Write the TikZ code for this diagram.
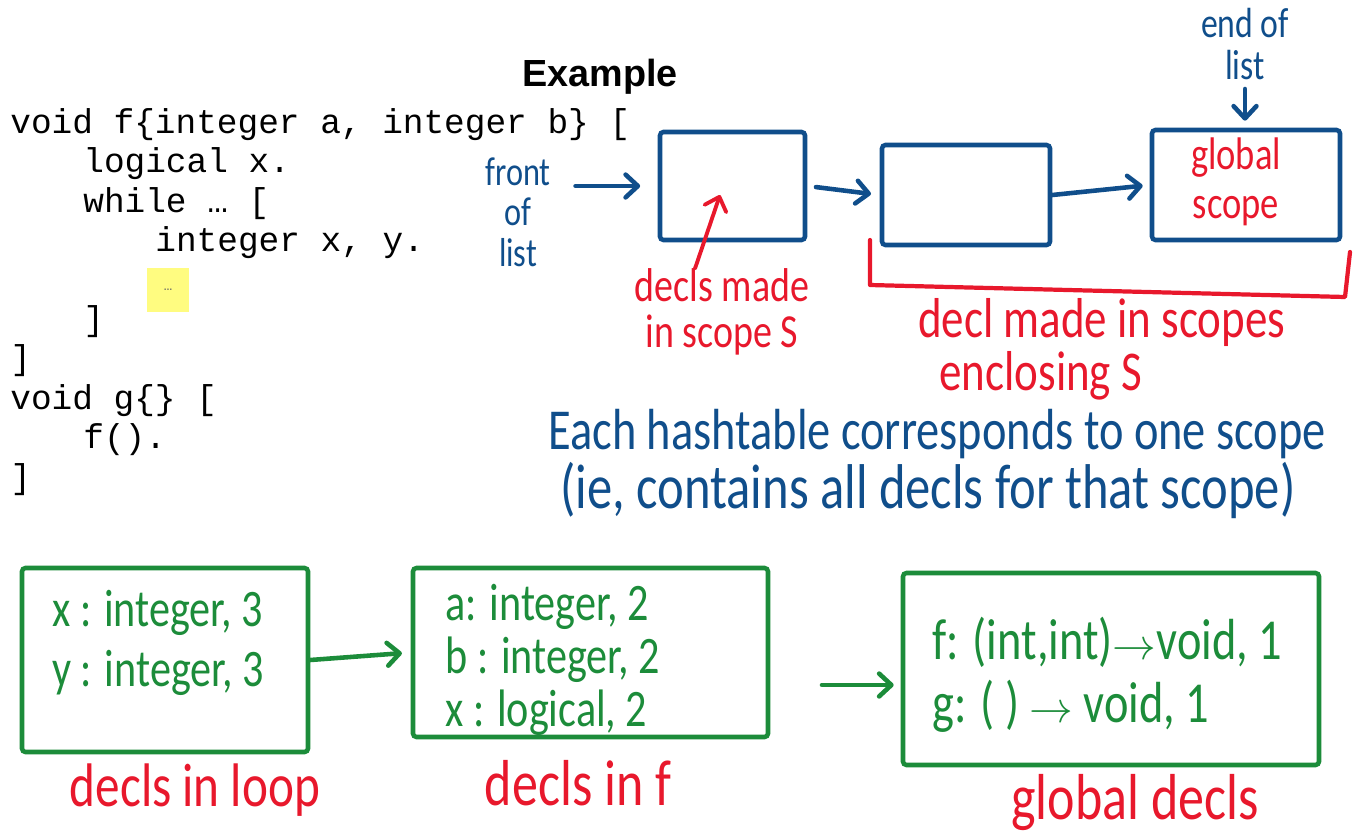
\documentclass[tikz,border=0pt]{standalone}
\usepackage{fontspec}
\setmainfont{Liberation Sans}
\setmonofont{Liberation Mono}
\newfontfamily\handfont[FakeStretch=0.8]{Carlito}
\usetikzlibrary{arrows.meta,positioning,calc,fit}
\definecolor{penblue}{RGB}{16,78,139}
\definecolor{penred}{RGB}{232,24,44}
\definecolor{pengreen}{RGB}{28,140,58}
\definecolor{marker}{RGB}{255,252,128}
\newcommand{\hand}[2]{\handfont\fontsize{#1}{#2}\selectfont}

\begin{document}
\begin{tikzpicture}[
    x=0.02cm, y=-0.02cm,
    code/.style={anchor=base west, inner sep=0pt, font=\ttfamily\fontsize{19.6}{22}\selectfont},
    scopebox/.style={draw=penblue, line width=2.6pt, inner sep=0pt, rounded corners=2pt},
    declbox/.style={draw=pengreen, line width=2.6pt, inner sep=0pt, rounded corners=2pt},
    decltext/.style={text=pengreen, align=left, anchor=west, inner sep=0pt},
    bluenote/.style={text=penblue, align=center, inner sep=0pt},
    rednote/.style={text=penred, align=center, inner sep=0pt},
    pen/.style={line width=2.6pt, line cap=round, -{Straight Barb[round, length=7pt, width=13pt]}}
]
    \useasboundingbox (0,0) rectangle (1362,835);

    % Title and code
    \node[font=\bfseries\fontsize{21.5}{24}\selectfont] (title) at (600,77) {Example};
    \node[code] (l1) at (10,133) {void f\{integer a, integer b\} [};
    \node[code] (l2) at (83,172) {logical x.};
    \node[code] (l3) at (83,212) {while … [};
    \node[code] (l4) at (155,251) {integer x, y.};
    \node[fill=marker, minimum width=0.86cm, minimum height=0.9cm, inner sep=0pt, text=black!60, font=\ttfamily\footnotesize] (dots) at (168,290) {…};
    \node[code] (l5) at (83,330) {]};
    \node[code] (l6) at (10,369) {]};
    \node[code] (l7) at (10,409) {void g\{\} [};
    \node[code] (l8) at (83,448) {f().};
    \node[code] (l9) at (10,488) {]};

    % List of scope tables
    \node[scopebox, fit={(660,132) (805,240)}] (front) {};
    \node[scopebox, fit={(882,145) (1050,245)}] (middle) {};
    \node[scopebox, fit={(1152,130) (1340,240)}] (global) {};
    \node[rednote, font=\hand{26}{28}] (globaltext) at (1236,182) {global\\scope};

    \node[bluenote, font=\hand{23}{23}] (frontlbl) at (518,212) {front\\of\\list};
    \node[bluenote, font=\hand{24}{24}] (endlbl) at (1245,44) {end of\\list};

    \draw[pen, penblue, shorten <=14pt, shorten >=10pt] (frontlbl.east |- front.west) -- (front.west);
    \draw[pen, penblue, shorten <=5pt, shorten >=5pt] (front.east) -- (middle.west);
    \draw[pen, penblue, shorten >=4pt] (middle.east) -- (global.west);
    \draw[pen, penblue, shorten <=5pt, shorten >=4pt] (endlbl.south) -- (endlbl.south |- global.north);

    % Red notes
    \node[rednote, font=\hand{27}{26}] (scopelbl) at (722,312) {decls made\\in scope S};
    \coordinate (target) at (720,195);
    \draw[pen, penred, line width=2.2pt] ($(scopelbl.north)+(-27,0)$) -- (target);

    \coordinate (brL) at (870,240);
    \coordinate (brR) at (1350,252);
    \draw[penred, line width=2.4pt, line cap=round, line join=round] (brL) -- ++(0,45) -- ($(brR)+(-5,45)$) -- (brR);
    \node[rednote, align=left, anchor=north west, font=\hand{32}{30}] (outerlbl) at (918,298) {decl made in scopes\\\hspace{12pt}enclosing S};

    % Blue statement
    \node[bluenote, anchor=west, font=\hand{33}{33}] (note1) at (548,434) {Each hashtable corresponds to one scope};
    \node[bluenote, anchor=west, font=\hand{36}{36}] (note2) at (560,490) {(ie, contains all decls for that scope)};

    % Hash tables of the example
    \node[declbox, fit={(22,568) (308,752)}] (loopdecls) {};
    \node[decltext, font=\hand{30}{34}] (looptext) at (52,643) {x : integer, 3\\y : integer, 3};
    \node[declbox, fit={(413,568) (768,737)}] (fdecls) {};
    \node[decltext, font=\hand{30}{30}] (ftext) at (445,660) {a: integer, 2\\b : integer, 2\\x : logical, 2};
    \node[declbox, fit={(903,573) (1319,765)}] (globaldecls) {};
    \node[decltext, font=\hand{33}{36}] (globaltable) at (932,675) {f: (int,int)$\rightarrow$void, 1\\g: ( ) $\rightarrow$ void, 1};

    \draw[pen, pengreen, shorten >=5pt] (loopdecls.east) -- (fdecls.west);
    \coordinate (gap) at (822,685);
    \draw[pen, pengreen, shorten >=4pt] (gap) -- (gap -| globaldecls.west);

    \node[rednote, font=\hand{35}{35}] (looplbl) at (195,790) {decls in loop};
    \node[rednote, font=\hand{37}{37}] (flbl) at (578,783) {decls in f};
    \node[rednote, font=\hand{37}{37}] (globallbl) at (1135,803) {global decls};
\end{tikzpicture}
\end{document}
